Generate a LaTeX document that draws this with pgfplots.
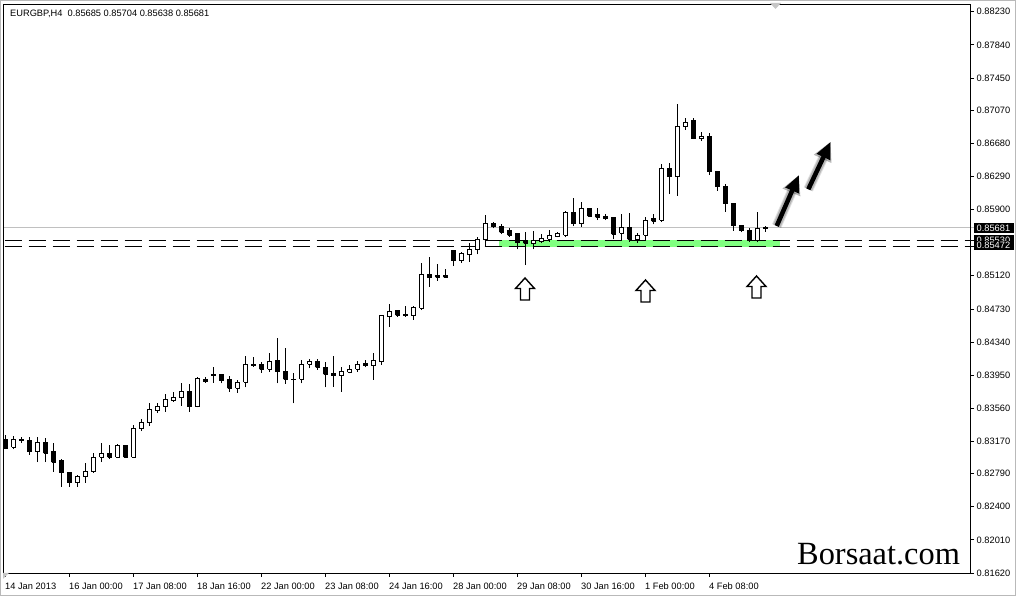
\documentclass[border=0pt]{standalone}
\usepackage{fontspec}
\setmainfont{Liberation Sans}
\newfontfamily\wmfont{Liberation Serif}
\usepackage{pgfplots}
\pgfplotsset{compat=1.18}
\usepackage{pgfplotstable}
\usetikzlibrary{arrows.meta}
\definecolor{hilite}{RGB}{128,255,128}
\definecolor{bidgray}{RGB}{192,192,192}

% EURGBP H4 candles: bar index, open, high, low, close
\pgfplotstableread{
i  O       H       L       C
0  0.83198 0.83245 0.83080 0.83092
1  0.83100 0.83233 0.83077 0.83195
2  0.83190 0.83222 0.83151 0.83183
3  0.83186 0.83222 0.83010 0.83045
4  0.83045 0.83222 0.82927 0.83151
5  0.83151 0.83210 0.82927 0.83033
6  0.83045 0.83151 0.82810 0.82927
7  0.82939 0.82963 0.82633 0.82798
8  0.82798 0.82810 0.82633 0.82680
9  0.82680 0.82774 0.82633 0.82751
10 0.82751 0.82916 0.82680 0.82810
11 0.82810 0.83033 0.82798 0.82986
12 0.82986 0.83151 0.82927 0.83033
13 0.83033 0.83128 0.82963 0.82986
14 0.82986 0.83139 0.82974 0.83116
15 0.83116 0.83128 0.82974 0.82986
16 0.82986 0.83363 0.82974 0.83316
17 0.83316 0.83434 0.83292 0.83387
18 0.83387 0.83622 0.83351 0.83540
19 0.83528 0.83622 0.83504 0.83575
20 0.83575 0.83728 0.83516 0.83669
21 0.83646 0.83752 0.83634 0.83681
22 0.83681 0.83858 0.83587 0.83752
23 0.83752 0.83846 0.83516 0.83575
24 0.83575 0.83928 0.83569 0.83905
25 0.83901 0.83932 0.83861 0.83873
26 0.83952 0.84042 0.83861 0.83950
27 0.83952 0.83964 0.83854 0.83885
28 0.83893 0.83940 0.83755 0.83795
29 0.83795 0.83893 0.83743 0.83866
30 0.83866 0.84176 0.83807 0.84081
31 0.84070 0.84167 0.84050 0.84068
32 0.84070 0.84108 0.83979 0.84019
33 0.84019 0.84214 0.83991 0.84108
34 0.84117 0.84384 0.83854 0.83991
35 0.83991 0.84266 0.83846 0.83901
36 0.83901 0.83972 0.83619 0.83899
37 0.83901 0.84128 0.83854 0.84081
38 0.84081 0.84137 0.84031 0.84108
39 0.84108 0.84137 0.84011 0.84042
40 0.84042 0.84108 0.83807 0.83960
41 0.83964 0.84176 0.83814 0.83940
42 0.83940 0.84042 0.83755 0.83991
43 0.83984 0.84070 0.83972 0.84022
44 0.84022 0.84117 0.83991 0.84081
45 0.84090 0.84128 0.84042 0.84061
46 0.84058 0.84207 0.83893 0.84117
47 0.84108 0.84658 0.84070 0.84647
48 0.84638 0.84788 0.84521 0.84705
49 0.84709 0.84717 0.84638 0.84658
50 0.84670 0.84764 0.84638 0.84647
51 0.84647 0.84764 0.84600 0.84749
52 0.84737 0.85274 0.84717 0.85141
53 0.85141 0.85345 0.84992 0.85098
54 0.85118 0.85259 0.85062 0.85102
55 0.85118 0.85197 0.85100 0.85102
56 0.85414 0.85414 0.85235 0.85298
57 0.85298 0.85404 0.85274 0.85377
58 0.85368 0.85510 0.85286 0.85424
59 0.85424 0.85573 0.85373 0.85542
60 0.85542 0.85836 0.85465 0.85738
61 0.85738 0.85757 0.85679 0.85698
62 0.85706 0.85730 0.85612 0.85632
63 0.85659 0.85679 0.85580 0.85600
64 0.85620 0.85628 0.85432 0.85510
65 0.85530 0.85639 0.85247 0.85503
66 0.85495 0.85651 0.85432 0.85533
67 0.85522 0.85612 0.85503 0.85562
68 0.85553 0.85659 0.85522 0.85589
69 0.85580 0.85639 0.85573 0.85620
70 0.85600 0.85887 0.85573 0.85871
71 0.85871 0.86033 0.85706 0.85730
72 0.85730 0.85993 0.85698 0.85907
73 0.85907 0.85915 0.85816 0.85824
74 0.85836 0.85915 0.85777 0.85809
75 0.85816 0.85848 0.85777 0.85789
76 0.85804 0.85804 0.85550 0.85612
77 0.85620 0.85848 0.85542 0.85691
78 0.85691 0.85856 0.85522 0.85550
79 0.85542 0.85624 0.85512 0.85595
80 0.85600 0.85816 0.85542 0.85777
81 0.85789 0.85844 0.85726 0.85765
82 0.85777 0.86433 0.85757 0.86378
83 0.86378 0.86445 0.86083 0.86287
84 0.86287 0.87140 0.86063 0.86884
85 0.86876 0.86975 0.86837 0.86928
86 0.86943 0.86982 0.86729 0.86731
87 0.86731 0.86817 0.86707 0.86766
88 0.86766 0.86798 0.86307 0.86346
89 0.86354 0.86354 0.86119 0.86169
90 0.86166 0.86197 0.85875 0.85969
91 0.85977 0.85977 0.85648 0.85710
92 0.85718 0.85718 0.85632 0.85648
93 0.85659 0.85679 0.85515 0.85530
94 0.85530 0.85868 0.85515 0.85679
95 0.85685 0.85704 0.85638 0.85681
}\candles

\newcommand\hollowup[2]{% centre x, tip y (picture coords)
  \filldraw[fill=white, draw=black, line width=1.4bp, line join=miter]
    (#1,#2) -- ++(9.5,-10.5) -- ++(-5,0) -- ++(0,-11.5) -- ++(-9,0)
    -- ++(0,11.5) -- ++(-5,0) -- cycle;}

\begin{document}
\begin{tikzpicture}[x=1bp, y=1bp, font=\fontsize{9.3}{11}\selectfont]
\fill[white] (0,0) rectangle (1016,596);
\draw[gray!55] (0.5,0.5) rectangle (1015.5,595.5);

% support zone and level lines
\fill[hilite] (499,348.7) rectangle (780,356);
\draw[bidgray, line width=1bp] (3,368) -- (974,368);
\draw[black, line width=1bp, dash pattern=on 17.7bp off 6.3bp, dash phase=22.3bp] (3,355) -- (974,355);
\draw[black, line width=1bp, dash pattern=on 17.7bp off 6.3bp, dash phase=22.3bp] (3,349.7) -- (974,349.7);

\begin{axis}[
  at={(3bp,23bp)}, anchor=south west,
  scale only axis, width=967bp, height=569bp,
  xmin=-0.3125, xmax=120.5625,
  ymin=0.81620, ymax=0.88321,
  clip=false,
  axis line style={black, line width=0.8bp},
  tick align=outside, major tick length=4bp,
  tick style={black, line width=0.8bp},
  xtick pos=left, ytick pos=right, yticklabel pos=right,
  scaled ticks=false,
  xtick={0,8,...,88},
  xticklabels={14 Jan 2013,16 Jan 00:00,17 Jan 08:00,18 Jan 16:00,22 Jan 00:00,23 Jan 08:00,24 Jan 16:00,28 Jan 00:00,29 Jan 08:00,30 Jan 16:00,1 Feb 00:00,4 Feb 08:00},
  ytick={0.81620,0.82010,0.82400,0.82790,0.83170,0.83560,0.83950,0.84340,0.84730,0.85120,0.85900,0.86290,0.86680,0.87070,0.87450,0.87840,0.88230},
  yticklabels={0.81620,0.82010,0.82400,0.82790,0.83170,0.83560,0.83950,0.84340,0.84730,0.85120,0.85900,0.86290,0.86680,0.87070,0.87450,0.87840,0.88230},
  tick label style={font=\fontsize{9.3}{11}\selectfont},
  yticklabel style={anchor=west, inner sep=0pt, xshift=2.5bp},
  xticklabel style={anchor=base west, inner sep=0pt, xshift=-0.5bp, yshift=-12.5bp},
]
\pgfplotsforeachungrouped \k in {0,...,95}{%
  \pgfplotstablegetelem{\k}{O}\of\candles\let\cO\pgfplotsretval
  \pgfplotstablegetelem{\k}{H}\of\candles\let\cH\pgfplotsretval
  \pgfplotstablegetelem{\k}{L}\of\candles\let\cL\pgfplotsretval
  \pgfplotstablegetelem{\k}{C}\of\candles\let\cC\pgfplotsretval
  \ifdim\cC pt<\cO pt
    \let\lo\cC \let\hi\cO \def\body{black}%
  \else
    \let\lo\cO \let\hi\cC \def\body{white}%
  \fi
  \pgfmathsetmacro\xa{\k-0.25}%
  \pgfmathsetmacro\xb{\k+0.25}%
  \edef\candle{%
    \noexpand\addplot[black, line width=1bp] coordinates {(\k,\cL) (\k,\cH)};
    \noexpand\addplot[draw=black, fill=\body, line width=1bp]
      coordinates {(\xa,\lo) (\xb,\lo) (\xb,\hi) (\xa,\hi) (\xa,\lo)};}%
  \candle
}
\end{axis}

% price labels on the right
\fill[black] (974,363) rectangle (1014,373);
\node[white, anchor=west, inner sep=0pt] at (976.5,368) {0.85681};
\fill[black] (974,350.5) rectangle (1014,360.5);
\node[white, anchor=west, inner sep=0pt] at (976.5,355.5) {0.85530};
\fill[black] (974,345.5) rectangle (1014,355.2);
\node[white, anchor=west, inner sep=0pt] at (976.5,350.3) {0.85472};

% markers
\fill[gray!45] (770,593) -- (781,593) -- (775.5,587) -- cycle;
\fill[gray!45] (3,23) -- (9,23) -- (3,17) -- cycle;

% hollow arrows under the lows
\hollowup{525}{318}
\hollowup{645.5}{316}
\hollowup{756.5}{320}

% black arrows
\foreach \w/\o in {10/0.12, 8/0.18}{
  \draw[black, opacity=\o, line width=\w bp, -{Triangle[length=19bp,width=18bp]}] (776.7,370) -- (799,421);
  \draw[black, opacity=\o, line width=\w bp, -{Triangle[length=19bp,width=18bp]}] (808.3,406.7) -- (830.7,454.3);
}
\draw[black, line width=4.5bp, -{Triangle[length=17bp,width=14bp]}] (776.7,370) -- (799,421);
\draw[black, line width=4.5bp, -{Triangle[length=17bp,width=14bp]}] (808.3,406.7) -- (830.7,454.3);

% title and watermark
\node[anchor=west, inner sep=0pt] at (10,582.5) {EURGBP,H4\hspace{0.55em}0.85685 0.85704 0.85638 0.85681};
\node[anchor=base west, inner sep=0pt, font=\wmfont\fontsize{32.5}{36}\selectfont] at (797,31.3) {Borsaat.com};

\pgfresetboundingbox
\path[use as bounding box] (0,0) rectangle (1016,596);
\end{tikzpicture}
\end{document}
